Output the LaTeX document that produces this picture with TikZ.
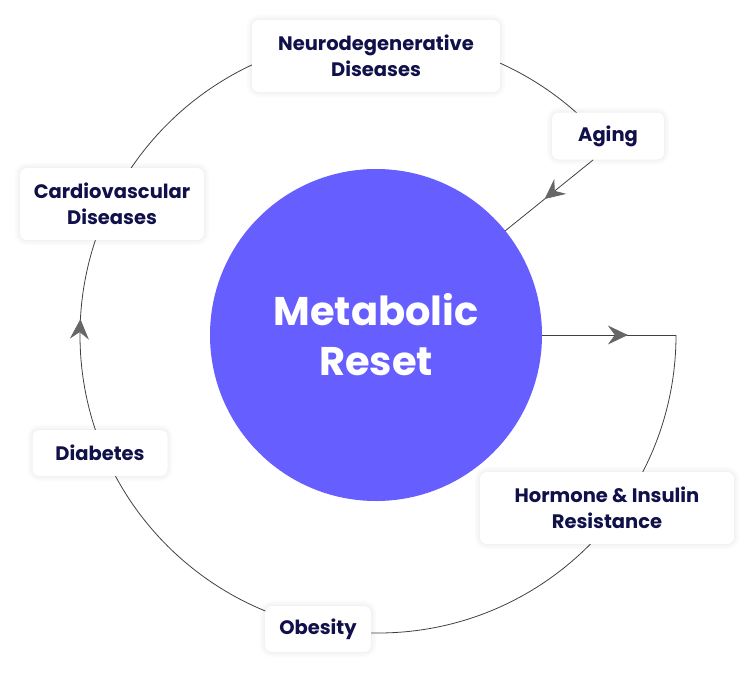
\documentclass[tikz,border=0pt]{standalone}
\usepackage{fontspec}
\setmainfont{Poppins}
\usetikzlibrary{arrows.meta,decorations.markings,shadows.blur}
\definecolor{navy}{HTML}{10104A}
\definecolor{violet}{HTML}{665EFF}
\definecolor{arr}{HTML}{666666}
\tikzset{
 lbl/.style={draw=none,fill=white,rounded corners=7pt,align=center,font=\fontsize{19.5}{26}\selectfont\bfseries,text=navy,blur shadow={shadow blur steps=6,shadow xshift=0pt,shadow yshift=0pt,shadow opacity=12,shadow blur radius=6pt}},
 ln/.style={draw=black!75,line width=0.8pt},
 ah/.style={arr,line width=0.8pt}
}
\begin{document}
\begin{tikzpicture}[x=1pt,y=-1pt]
\useasboundingbox (0,0) rectangle (754,672);
\node[circle,fill=violet,minimum size=332pt,inner sep=0,text=white,align=center,font=\fontsize{40}{50}\selectfont\bfseries] (c) at (376,335) {Metabolic\\Reset};
\coordinate (r) at (676,335);
\draw[ln,postaction={decorate},decoration={markings,mark=at position 0.583 with {\arrow[ah]{Stealth[length=20pt,width=19pt,inset=7pt]}}}] (r) arc[start angle=0,end angle=314,radius=298];
\draw[ln,postaction={decorate},decoration={markings,mark=at position 0.64 with {\arrow[ah]{Stealth[length=20pt,width=19pt,inset=7pt]}}}] (c.east) -- (r);
\node[lbl,minimum width=248pt,minimum height=72pt] (n) at (376,56) {Neurodegenerative\\Diseases};
\node[lbl,minimum width=112pt,minimum height=47pt] (a) at (608,136) {Aging};
\node[lbl,minimum width=184pt,minimum height=72pt] (cd) at (112,204) {Cardiovascular\\Diseases};
\node[lbl,minimum width=135pt,minimum height=46pt] (d) at (100,453) {Diabetes};
\node[lbl,minimum width=254pt,minimum height=72pt] (h) at (607,508) {Hormone \& Insulin\\Resistance};
\node[lbl,minimum width=106pt,minimum height=46pt] (o) at (318,629) {Obesity};
\coordinate (ae) at (505,231);
\coordinate (as) at (593,160);
\draw[ln,postaction={decorate},decoration={markings,mark=at position 0.55 with {\arrow[ah]{Stealth[length=20pt,width=19pt,inset=7pt]}}}] (as) -- (ae);
\end{tikzpicture}
\end{document}
